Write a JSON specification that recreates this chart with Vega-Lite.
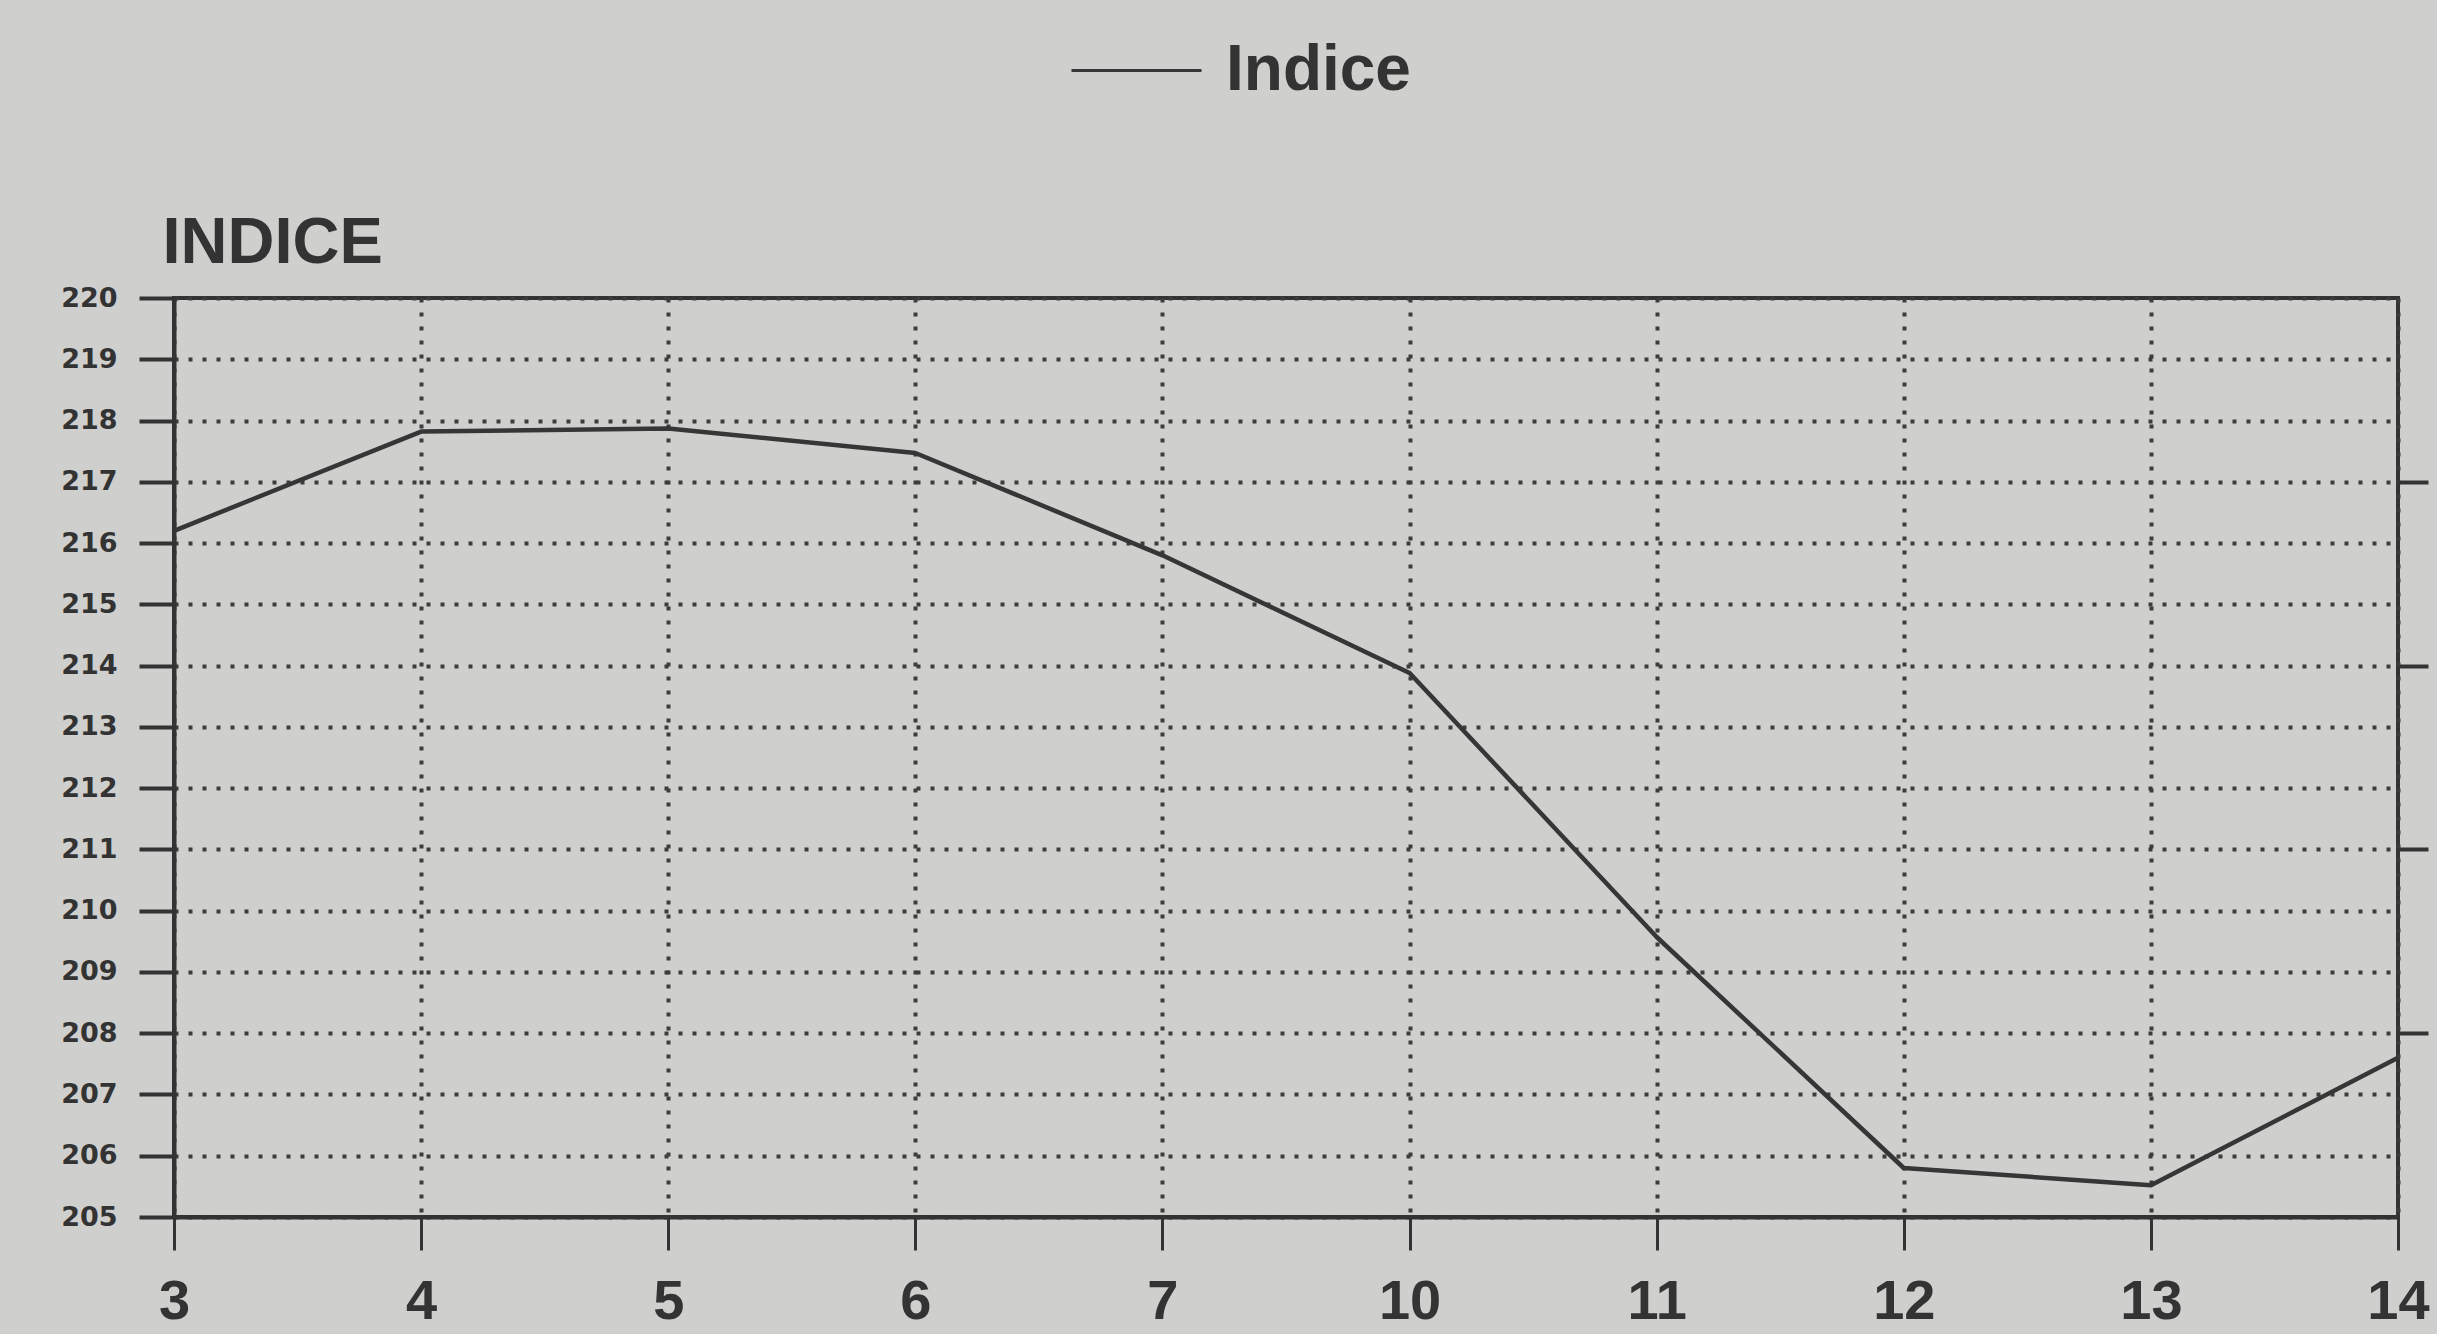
{
  "$schema": "https://vega.github.io/schema/vega-lite/v6.json",
  "autosize": {"type": "none"},
  "padding": {"left": 174, "top": 298, "right": 39, "bottom": 117},
  "width": 2224,
  "height": 919,
  "background": "#cfcfcd",
  "data": {
    "values": [
      {"mes": "3", "indice": 216.2},
      {"mes": "4", "indice": 217.82},
      {"mes": "5", "indice": 217.87},
      {"mes": "6", "indice": 217.47},
      {"mes": "7", "indice": 215.8},
      {"mes": "10", "indice": 213.88},
      {"mes": "11", "indice": 209.57},
      {"mes": "12", "indice": 205.8},
      {"mes": "13", "indice": 205.52},
      {"mes": "14", "indice": 207.6}
    ]
  },
  "layer": [
    {
      "mark": {"type": "line", "strokeWidth": 4.5, "strokeJoin": "round"},
      "encoding": {
        "x": {
          "field": "mes",
          "type": "ordinal",
          "sort": ["3", "4", "5", "6", "7", "10", "11", "12", "13", "14"],
          "scale": {"type": "point", "padding": 0},
          "axis": {
            "title": null,
            "labelAngle": 0,
            "labelFont": "Liberation Sans",
            "labelFontSize": 56,
            "labelFontWeight": "bold",
            "labelColor": "#333333",
            "labelPadding": 24,
            "domainColor": "#333333",
            "domainWidth": 4,
            "tickColor": "#333333",
            "tickWidth": 3,
            "tickSize": 33,
            "grid": true,
            "gridColor": "#3c3c3c",
            "gridWidth": 4,
            "gridDash": [4, 10]
          }
        },
        "y": {
          "field": "indice",
          "type": "quantitative",
          "scale": {"domain": [205, 220], "zero": false, "nice": false},
          "axis": {
            "title": "INDICE",
            "titleAngle": 0,
            "titleX": -12,
            "titleY": -36,
            "titleAlign": "left",
            "titleBaseline": "alphabetic",
            "titleFont": "Liberation Sans",
            "titleFontSize": 65,
            "titleFontWeight": "bold",
            "titleColor": "#333333",
            "values": [205, 206, 207, 208, 209, 210, 211, 212, 213, 214, 215, 216, 217, 218, 219, 220],
            "labelFont": "DejaVu Sans",
            "labelFontSize": 27,
            "labelFontWeight": "bold",
            "labelColor": "#333333",
            "labelPadding": 22,
            "domainColor": "#333333",
            "domainWidth": 4,
            "tickColor": "#333333",
            "tickWidth": 4,
            "tickSize": 35,
            "grid": true,
            "gridColor": "#3c3c3c",
            "gridWidth": 4,
            "gridDash": [4, 10]
          }
        },
        "color": {
          "datum": "Indice",
          "scale": {"range": ["#363636"]},
          "legend": {
            "title": null,
            "orient": "none",
            "legendX": 896,
            "legendY": -294,
            "symbolType": "stroke",
            "symbolSize": 16900,
            "symbolStrokeWidth": 3,
            "labelFont": "Liberation Sans",
            "labelFontSize": 64,
            "labelFontWeight": "bold",
            "labelColor": "#333333",
            "labelOffset": 23,
            "labelLimit": 600
          }
        }
      }
    },
    {
      "mark": {"type": "line", "strokeOpacity": 0},
      "encoding": {
        "x": {
          "field": "mes",
          "type": "ordinal",
          "sort": ["3", "4", "5", "6", "7", "10", "11", "12", "13", "14"]
        },
        "y": {
          "field": "indice",
          "type": "quantitative",
          "axis": {
            "orient": "right",
            "title": null,
            "values": [208, 211, 214, 217],
            "labels": false,
            "domain": false,
            "grid": false,
            "tickColor": "#333333",
            "tickWidth": 4,
            "tickSize": 30
          }
        }
      }
    }
  ],
  "resolve": {"axis": {"y": "independent"}},
  "config": {
    "view": {"stroke": "#333333", "strokeWidth": 4}
  }
}
